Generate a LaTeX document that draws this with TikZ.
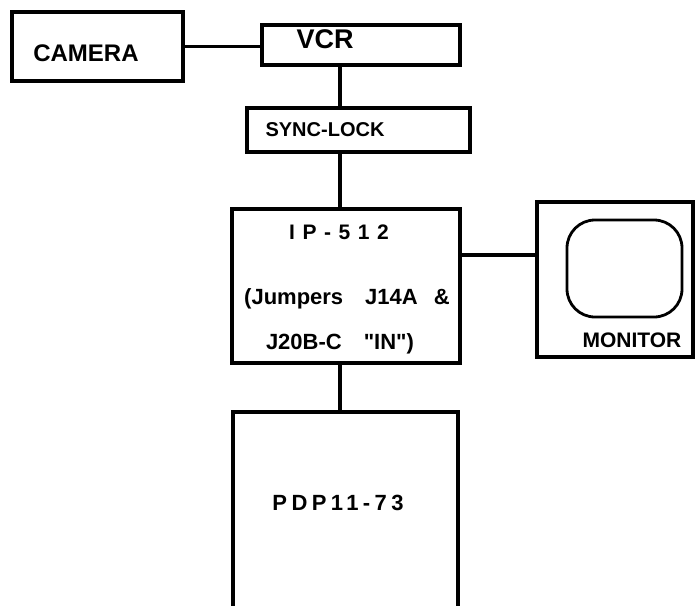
\documentclass[tikz,border=0pt]{standalone}
\usepackage{fontspec}
\setmainfont{Liberation Sans}
\newfontfamily\tracked[LetterSpace=36]{Liberation Sans}
\newfontfamily\trackedB[LetterSpace=20]{Liberation Sans}
\newfontfamily\plainq[Ligatures=TeXOff]{Liberation Sans}
\usetikzlibrary{positioning,calc}
\tikzset{
  unit/.style={rectangle,draw=black,line width=3.4pt,inner sep=0pt},
  tag/.style={font=\bfseries,inner sep=0pt,anchor=center},
  wire/.style={line width=3.4pt,draw=black}
}

\begin{document}
\begin{tikzpicture}[x=1pt,y=-1pt]
  \useasboundingbox (0,0) rectangle (698,605);
  \clip (0,0) rectangle (698,605);
  \coordinate (bus) at (340,0);

  % boxes
  \node[unit,minimum width=171pt,minimum height=69pt] (cam) at (97.5,46.5) {};
  \node[unit,minimum width=198pt,minimum height=40pt] (vcr) at (361,45) {};
  \node[unit,minimum width=223pt,minimum height=44pt] (sync) at (358.5,130) {};
  \node[unit,minimum width=228pt,minimum height=154pt] (ip) at (346,286) {};
  \node[unit,minimum width=156pt,minimum height=155pt] (mon) at (615,279.5) {};
  \node[unit,minimum width=225pt,minimum height=230pt] (pdp) at (345.5,527) {};
  \node[unit,rounded corners=28pt,line width=2.8pt,
    minimum width=115pt,minimum height=97pt] (screen) at (624.5,268.5) {};

  % labels
  \node[tag,font=\bfseries\fontsize{24}{24}\selectfont] (camL) at (86,53) {CAMERA};
  \node[tag,font=\bfseries\fontsize{27}{27}\selectfont] (vcrL) at (325,39) {VCR};
  \node[tag,font=\bfseries\fontsize{20}{20}\selectfont] (syncL) at (325,130) {SYNC-LOCK};
  \node[tag,font=\tracked\bfseries\fontsize{21}{21}\selectfont] (ipL) at (339,232) {IP-512};
  \node[tag,font=\bfseries\fontsize{22}{22}\selectfont,anchor=west] (jmpL) at (244,299)
    {(Jumpers\hspace{22pt}J14A\hspace{16pt}\&};
  \node[tag,font=\plainq\bfseries\fontsize{22}{22}\selectfont] (jinL) at (340,344)
    {J20B-C\hspace{22pt}"IN")};
  \node[tag,font=\bfseries\fontsize{21}{21}\selectfont] (monL) at (632,340) {MONITOR};
  \node[tag,font=\trackedB\bfseries\fontsize{22}{22}\selectfont] (pdpL) at (338,503) {PDP11-73};

  % wiring
  \draw[wire] (cam.east) -- (cam.east -| vcr.west);
  \draw[wire] (vcr.south -| bus) -- (sync.north -| bus);
  \draw[wire] (sync.south -| bus) -- (ip.north -| bus);
  \draw[wire] (ip.east |- 0,255) -- (mon.west |- 0,255);
  \draw[wire] (ip.south -| bus) -- (pdp.north -| bus);
\end{tikzpicture}
\end{document}
